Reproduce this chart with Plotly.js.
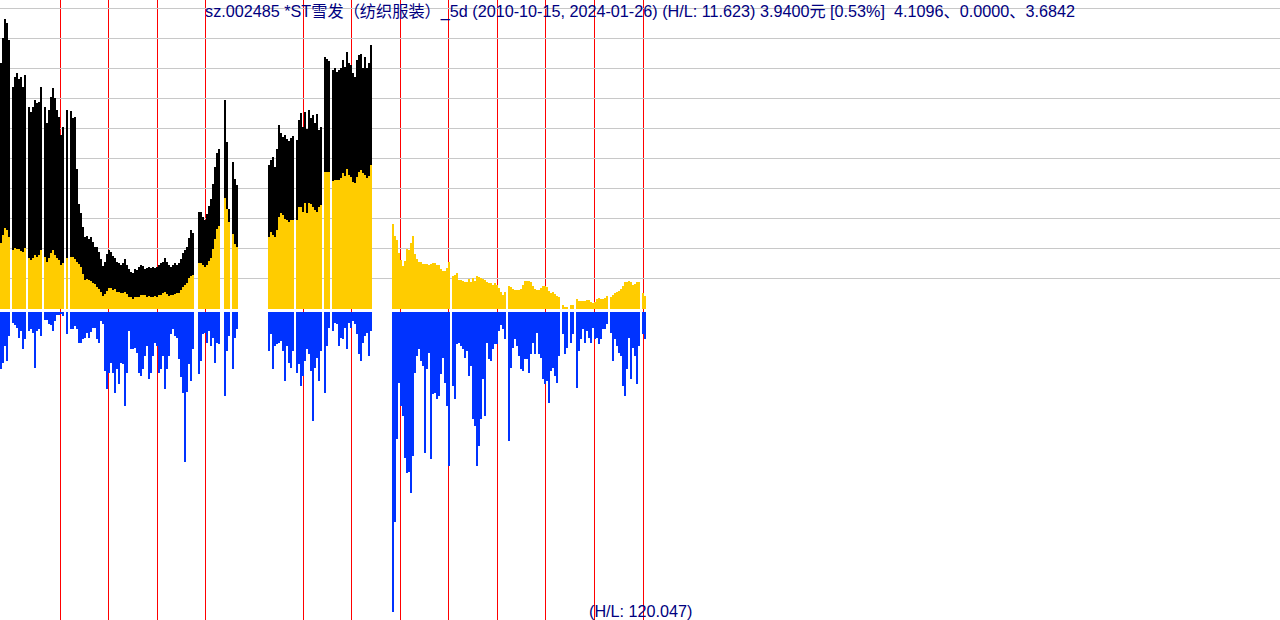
<!DOCTYPE html>
<html><head><meta charset="utf-8">
<script src="https://cdn.plot.ly/plotly-3.0.1.min.js"></script>
<style>
html,body{margin:0;padding:0;background:#fff;overflow:hidden;}
#chart{width:1280px;height:620px;}
.bars path{shape-rendering:crispEdges;}
</style></head><body><div id="chart"></div>
<script>
// half-month samples starting 2010-10-15 (weekly chart "_5d")
const startDate = '2010-10-15';
const titleText = 'sz.002485 *ST雪发（纺织服装）_5d (2010-10-15, 2024-01-26) (H/L: 11.623) 3.9400元 [0.53%]\u00a0\u00a04.1096、0.0000、3.6842';
const volLabel = '(H/L: 120.047)';

// upper (black) envelope
const blackVals = [
 9.84,10.84,11.62,11.44,10.76,null,8.88,9.28,9.44,9.2,
 9.28,8.88,9.36,null,8.08,7.88,8.08,8.36,8.24,8.28,
 8.88,null,8.08,7.44,7.96,8.48,8.84,8.44,7.96,7.68,
 6.96,7.28,null,7.96,null,7.92,7.64,7.68,5.6,4.2,
 3.84,3.28,2.88,2.92,2.8,2.88,2.68,2.48,2.48,2.28,
 2.0,1.72,1.88,2.2,2.36,2.28,2.12,2.04,1.88,1.84,
 1.76,1.84,2.0,1.76,1.6,1.48,1.44,1.6,1.56,1.68,
 1.76,1.72,1.6,1.64,1.68,1.64,1.68,1.64,1.68,1.76,
 1.84,1.88,2.04,1.88,1.76,1.68,1.76,1.84,1.76,1.84,
 2.0,2.24,2.36,2.48,2.84,3.16,3.04,null,null,3.88,
 3.88,3.68,3.56,3.8,4.12,4.4,5.0,5.68,6.24,6.4,
 null,null,8.36,6.68,4.0,null,5.88,5.2,4.96,null,
 null,null,null,null,null,null,null,null,null,null,
 null,null,null,null,5.76,5.96,6.08,5.68,6.4,7.36,
 7.04,6.88,6.96,6.8,6.72,6.84,6.92,null,6.76,7.56,
 7.84,7.28,7.88,7.2,7.96,7.64,7.76,7.44,7.8,7.16,
 7.28,null,10.08,10.0,9.92,null,9.56,9.64,9.48,9.56,
 9.64,9.96,9.68,10.28,9.84,9.76,9.44,9.28,9.96,10.16,
 10.2,9.64,10.08,9.64,9.84,10.56
];

// price (gold)
const goldVals = [
 2.64,2.96,3.24,3.16,2.88,null,2.36,2.44,2.4,2.4,
 2.32,2.28,2.44,null,2.04,1.96,2.04,2.16,2.08,2.16,
 2.36,null,2.08,1.88,2.04,2.24,2.36,2.16,2.04,1.96,
 1.76,1.84,null,2.04,null,2.08,2.08,2.0,1.88,1.8,
 1.68,1.4,1.16,1.2,1.16,1.12,1.04,1.0,0.88,0.8,
 0.68,0.52,0.6,0.72,0.84,0.84,0.76,0.8,0.68,0.68,
 0.64,0.64,0.68,0.6,0.48,0.48,0.4,0.48,0.48,0.48,
 0.56,0.56,0.56,0.48,0.52,0.48,0.48,0.52,0.48,0.56,
 0.56,0.64,0.68,0.6,0.52,0.56,0.56,0.6,0.64,0.64,
 0.76,0.88,0.96,1.04,1.24,1.32,1.36,null,null,1.84,
 1.84,1.76,1.68,1.76,1.92,2.04,2.4,2.8,3.2,3.32,
 null,null,4.44,4.0,3.48,null,3.0,2.6,2.48,null,
 null,null,null,null,null,null,null,null,null,null,
 null,null,null,null,2.88,3.08,2.96,2.88,3.16,3.68,
 3.84,3.76,3.6,3.56,3.48,3.56,3.56,null,3.56,4.08,
 4.08,3.88,4.24,3.84,4.24,4.2,4.08,3.96,3.88,4.08,
 4.16,null,5.48,5.48,5.48,null,5.12,5.16,5.16,5.16,
 5.24,5.44,5.32,5.6,5.36,5.28,5.08,5.04,5.28,5.48,
 5.56,5.44,5.36,5.24,5.32,5.76,null,null,null,null,
 null,null,null,null,null,null,3.4,2.92,2.76,2.24,
 1.96,1.72,1.92,2.4,2.36,2.64,2.92,2.2,2.0,1.88,
 1.88,1.8,1.8,1.8,1.76,1.8,1.84,1.84,1.76,1.76,
 1.6,1.52,1.52,1.64,1.88,null,1.32,1.36,1.44,1.16,
 1.16,1.12,1.08,1.08,1.2,1.08,1.24,1.12,1.32,1.28,
 1.24,1.2,1.16,1.08,1.04,1.04,0.96,1.04,0.96,0.84,
 0.68,0.56,0.68,null,0.92,0.88,0.8,0.76,0.76,0.76,
 0.8,0.96,1.12,1.12,1.12,1.08,0.92,0.8,0.76,0.76,
 0.84,0.92,0.92,0.88,0.72,0.64,0.68,0.6,0.52,0.48,
 null,0.16,0.1,0.08,null,0.16,0.16,null,0.4,0.32,
 0.32,0.32,0.32,0.36,0.36,0.28,0.24,0.28,0.4,0.44,
 0.4,0.4,0.44,0.52,null,0.48,0.56,0.64,0.68,0.72,
 0.8,0.92,1.08,1.08,1.12,1.08,0.96,1.0,1.08,1.08,
 null,0.64,0.52
];

// volume (blue, drawn downward)
const volVals = [
 22.8,20.4,13.6,19.6,9.6,null,4.4,5.2,6.4,10.4,
 7.6,14.8,10.8,null,7.6,6.8,8.4,22.4,7.6,6.8,
 9.6,null,3.2,3.2,4.8,5.2,7.6,3.6,1.2,1.2,
 0.8,1.6,null,8.8,null,6.8,6.8,5.6,6.8,12.4,
 12.4,10.8,10.4,8.4,10.4,8.0,6.4,6.4,10.8,12.4,
 3.6,4.8,23.6,30.8,24.4,20.4,24.4,32.4,22.8,28.8,
 20.4,20.8,37.6,24.4,7.6,14.8,14.8,14.4,16.4,24.4,
 25.6,22.8,17.6,13.6,26.8,24.4,17.6,12.4,13.6,24.4,
 22.8,17.6,30.8,22.8,17.6,8.8,6.8,9.6,10.4,18.8,
 26.0,32.4,60.0,32.0,20.8,27.6,14.8,null,null,24.8,
 19.6,8.8,8.4,12.4,7.6,13.6,10.4,20.4,12.4,12.8,
 null,null,33.6,15.6,9.6,null,22.8,10.4,6.8,null,
 null,null,null,null,null,null,null,null,null,null,
 null,null,null,null,15.6,8.8,22.8,13.6,12.8,12.4,
 11.6,15.6,27.6,13.6,20.4,22.4,15.6,null,24.4,20.8,
 29.6,25.6,19.6,14.8,16.8,23.6,43.6,22.4,18.4,27.6,
 15.6,null,32.4,13.6,6.4,null,7.6,4.4,4.8,13.6,
 10.4,10.8,6.4,14.8,4.4,6.4,3.6,4.8,8.8,16.8,
 19.6,12.4,9.6,8.4,17.6,7.6,null,null,null,null,
 null,null,null,null,null,null,120.05,84.0,50.8,28.4,
 37.6,41.6,58.4,64.4,64.0,72.4,57.6,24.4,17.6,14.8,
 19.6,21.6,56.4,22.8,16.4,58.8,32.8,32.4,34.8,33.6,
 24.8,18.4,28.4,37.6,61.6,null,29.6,34.8,12.8,12.4,
 13.6,14.8,18.4,15.6,25.6,21.6,42.8,45.6,61.6,53.6,
 42.8,26.8,41.6,12.4,18.8,19.6,14.8,12.8,12.8,7.6,
 5.2,6.8,10.8,null,51.6,22.4,14.4,10.8,13.6,17.6,
 22.8,23.6,18.8,18.8,24.4,16.8,12.4,16.8,8.4,16.8,
 18.4,26.8,28.8,27.6,36.4,23.6,22.4,25.6,28.4,17.6,
 null,8.8,16.8,14.4,null,12.4,8.8,null,30.4,15.6,
 10.8,6.8,12.4,7.6,10.4,12.4,6.4,10.8,10.4,12.8,
 10.8,6.8,6.8,4.8,null,8.4,19.6,10.8,13.6,16.4,
 17.6,29.6,33.6,22.8,10.4,26.8,14.4,17.6,28.8,13.6,
 null,8.8,10.8
];

const yearLines = [2012,2013,2014,2015,2017,2018,2019,2020,2021,2022,2023,2024];
const gridVals = [1.22,2.42,3.62,4.82,6.02,7.22,8.42,9.62,10.82,12.02];

const MS_DAY = 86400000;
const DAYS_PER_PX = 7.518;
const PX_MS = DAYS_PER_PX * MS_DAY;
const STEP_MS = 2 * PX_MS;
const t0 = Date.parse(startDate + 'T00:00:00Z');
function iso(ms){ return new Date(ms).toISOString().slice(0,23).replace('T',' '); }
const dates = goldVals.map((_, i) => iso(t0 + i * STEP_MS));
const xStart = t0 - PX_MS;
const xRange = [iso(xStart), iso(xStart + 1280 * PX_MS)];

// year-start marker, snapped to the centre of a screen pixel so the 1px line stays crisp
function yearLineX(y){
  const p = (Date.parse(y + '-01-01T00:00:00Z') - xStart) / PX_MS;
  return iso(xStart + (Math.round(p - 0.35) + 0.5) * PX_MS);
}

const font = {family: 'Liberation Sans, Noto Sans CJK SC, sans-serif', size: 16.2, color: '#000080'};

const traces = [
 {type:'bar', x: dates.slice(0, blackVals.length), y: blackVals, width: STEP_MS,
  marker:{color:'#000000', line:{width:0}}, hoverinfo:'skip', yaxis:'y'},
 {type:'bar', x: dates, y: goldVals, width: STEP_MS,
  marker:{color:'#ffcc00', line:{width:0}}, hoverinfo:'skip', yaxis:'y'},
 {type:'bar', x: dates, y: volVals.map(v => v == null ? null : -v), width: STEP_MS,
  marker:{color:'#0033ff', line:{width:0}}, hoverinfo:'skip', yaxis:'y2'}
];

const layout = {
 width:1280, height:620,
 margin:{l:0, r:0, t:0, b:0, pad:0},
 paper_bgcolor:'#ffffff', plot_bgcolor:'#ffffff',
 barmode:'overlay', bargap:0, showlegend:false,
 xaxis:{type:'date', range:xRange, showgrid:false, zeroline:false, showticklabels:false,
  ticks:'', showline:false, fixedrange:true},
 yaxis:{range:[-12.44, 12.36], tickmode:'array', tickvals:gridVals, showticklabels:false,
  showgrid:true, gridcolor:'#c8c8c8', gridwidth:1, zeroline:false, ticks:'', showline:false, fixedrange:true},
 yaxis2:{overlaying:'y', range:[-123.2, 124.8], showgrid:false, zeroline:false,
  showticklabels:false, ticks:'', showline:false, fixedrange:true},
 shapes: yearLines.map(y => {
  const xv = yearLineX(y);
  return {type:'line', xref:'x', yref:'paper', x0:xv, x1:xv, y0:0, y1:1,
   line:{color:'#ff0000', width:1}, layer:'between'};
 }),
 title:{text:titleText, x:0.5, xanchor:'center', xref:'paper', y:1 - 11/620, yref:'container', yanchor:'middle', font:font},
 annotations:[{text:volLabel, xref:'paper', yref:'paper', x:0.5, y:9/620,
  xanchor:'center', yanchor:'middle', showarrow:false, font:font}]
};

Plotly.newPlot('chart', traces, layout, {staticPlot:true, displayModeBar:false});
</script>
</body></html>
